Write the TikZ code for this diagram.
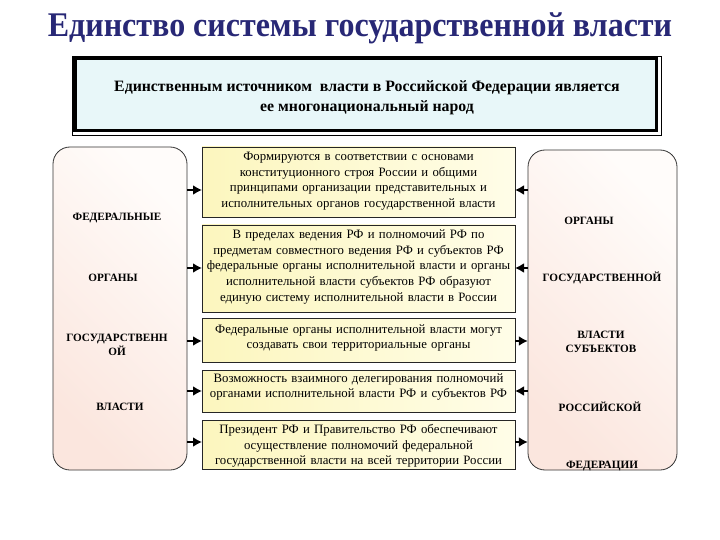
\documentclass[tikz,border=0pt]{standalone}
\usepackage{fontspec}
\setmainfont{Liberation Serif}
\usetikzlibrary{arrows.meta,calc}
\definecolor{titleblue}{RGB}{40,40,118}
\definecolor{topfill}{RGB}{232,247,249}
\definecolor{midL}{RGB}{252,246,190}
\definecolor{midR}{RGB}{255,253,232}
\definecolor{sideL}{RGB}{251,230,222}
\definecolor{sideR}{RGB}{255,252,250}
\tikzset{
  midbox/.style={draw=black!85, line width=0.8pt, left color=midL, right color=midR, inner sep=0pt},
  midtext/.style={align=center, font=\fontsize{12.8}{15.6}\selectfont, text width=312pt},
  sidebox/.style={draw=black!80, line width=0.8pt, rounded corners=17pt, shading=axis, left color=sideL, right color=sideR, shading angle=135},
  sidelabel/.style={font=\bfseries\fontsize{11.2}{14.5}\selectfont, align=center},
  arr/.style={line width=2.2pt, -{Latex[length=9pt,width=10pt]}},
}
\begin{document}
\begin{tikzpicture}[x=1pt,y=-1pt]
\useasboundingbox (0,0) rectangle (720,540);
\fill[white] (0,0) rectangle (720,540);
% title
\node[font=\bfseries\fontsize{32}{32}\selectfont, text=titleblue, yscale=1.08] (title) at (360,28) {Единство системы государственной власти};
% top box
\draw[black, line width=0.6pt] (72,56) rectangle (661,135);
\fill[black] (72,56) rectangle (658,132);
\fill[topfill] (77,60) rectangle (655,129);
\draw[black, line width=0.6pt] (76.5,59.5) rectangle (655.5,129.5);
\node[font=\bfseries\fontsize{15.8}{20}\selectfont, align=center] (top) at (367,98) {Единственным источником\ \ власти в Российской Федерации является\\ее многонациональный народ};
% side boxes
\draw[sidebox] (53,147) rectangle (187,470);
\coordinate (Lnw) at (53,147); \coordinate (Lse) at (187,470);
\path (Lnw) -- (Lse) node[midway, inner sep=0pt, minimum width=134pt, minimum height=323pt] (L) {};
\draw[sidebox] (528,150) rectangle (677,470);
\path (528,150) -- (677,470) node[midway, inner sep=0pt, minimum width=149pt, minimum height=320pt] (R) {};
% side labels
\node[sidelabel] (l1) at (117,218) {ФЕДЕРАЛЬНЫЕ};
\node[sidelabel] (l2) at (113,278) {ОРГАНЫ};
\node[sidelabel] (l3) at (117,345) {ГОСУДАРСТВЕНН\\ОЙ};
\node[sidelabel] (l4) at (120,407) {ВЛАСТИ};
\node[sidelabel] (r1) at (589,221) {ОРГАНЫ};
\node[sidelabel] (r2) at (602,278) {ГОСУДАРСТВЕННОЙ};
\node[sidelabel] (r3) at (601,342) {ВЛАСТИ\\СУБЪЕКТОВ};
\node[sidelabel] (r4) at (600,407) {РОССИЙСКОЙ};
\node[sidelabel] (r5) at (602,466) {ФЕДЕРАЦИИ};
% middle boxes
\draw[midbox] (202,147) rectangle (515,217);
\node[midtext] (m1) at (358.5,181) {Формируются в соответствии с основами\\конституционного строя России и общими\\принципами организации представительных и\\исполнительных органов государственной власти};
\draw[midbox] (202,225) rectangle (515,312);
\node[midtext] (m2) at (358.5,267) {В пределах ведения РФ и полномочий РФ по\\предметам совместного ведения РФ и субъектов РФ\\федеральные органы исполнительной власти и органы\\исполнительной власти субъектов РФ образуют\\единую систему исполнительной власти в России};
\draw[midbox] (202,318) rectangle (515,362);
\node[midtext] (m3) at (358.5,338) {Федеральные органы исполнительной власти могут\\создавать свои территориальные органы};
\draw[midbox] (202,370) rectangle (515,412);
\node[midtext] (m4) at (358.5,387) {Возможность взаимного делегирования полномочий\\органами исполнительной власти РФ и субъектов РФ};
\draw[midbox] (202,420) rectangle (515,469);
\node[midtext] (m5) at (358.5,446) {Президент РФ и Правительство РФ обеспечивают\\осуществление полномочий федеральной\\государственной власти на всей территории России};
% arrow levels
\coordinate (a1) at (0,190);
\coordinate (a2) at (0,268);
\coordinate (a3) at (0,341);
\coordinate (a4) at (0,391);
\coordinate (a5) at (0,442);
\coordinate (mw) at (202,0);
\coordinate (me) at (515,0);
% left arrows
\foreach \a in {a1,a2,a3,a4,a5} {
  \draw[arr] (L.east |- \a) -- (mw |- \a);
}
% right arrows
\draw[arr] (R.west |- a1) -- (me |- a1);
\draw[arr] (R.west |- a2) -- (me |- a2);
\draw[arr] (me |- a3) -- (R.west |- a3);
\draw[arr] (R.west |- a4) -- (me |- a4);
\draw[arr] (me |- a5) -- (R.west |- a5);
\end{tikzpicture}
\end{document}
